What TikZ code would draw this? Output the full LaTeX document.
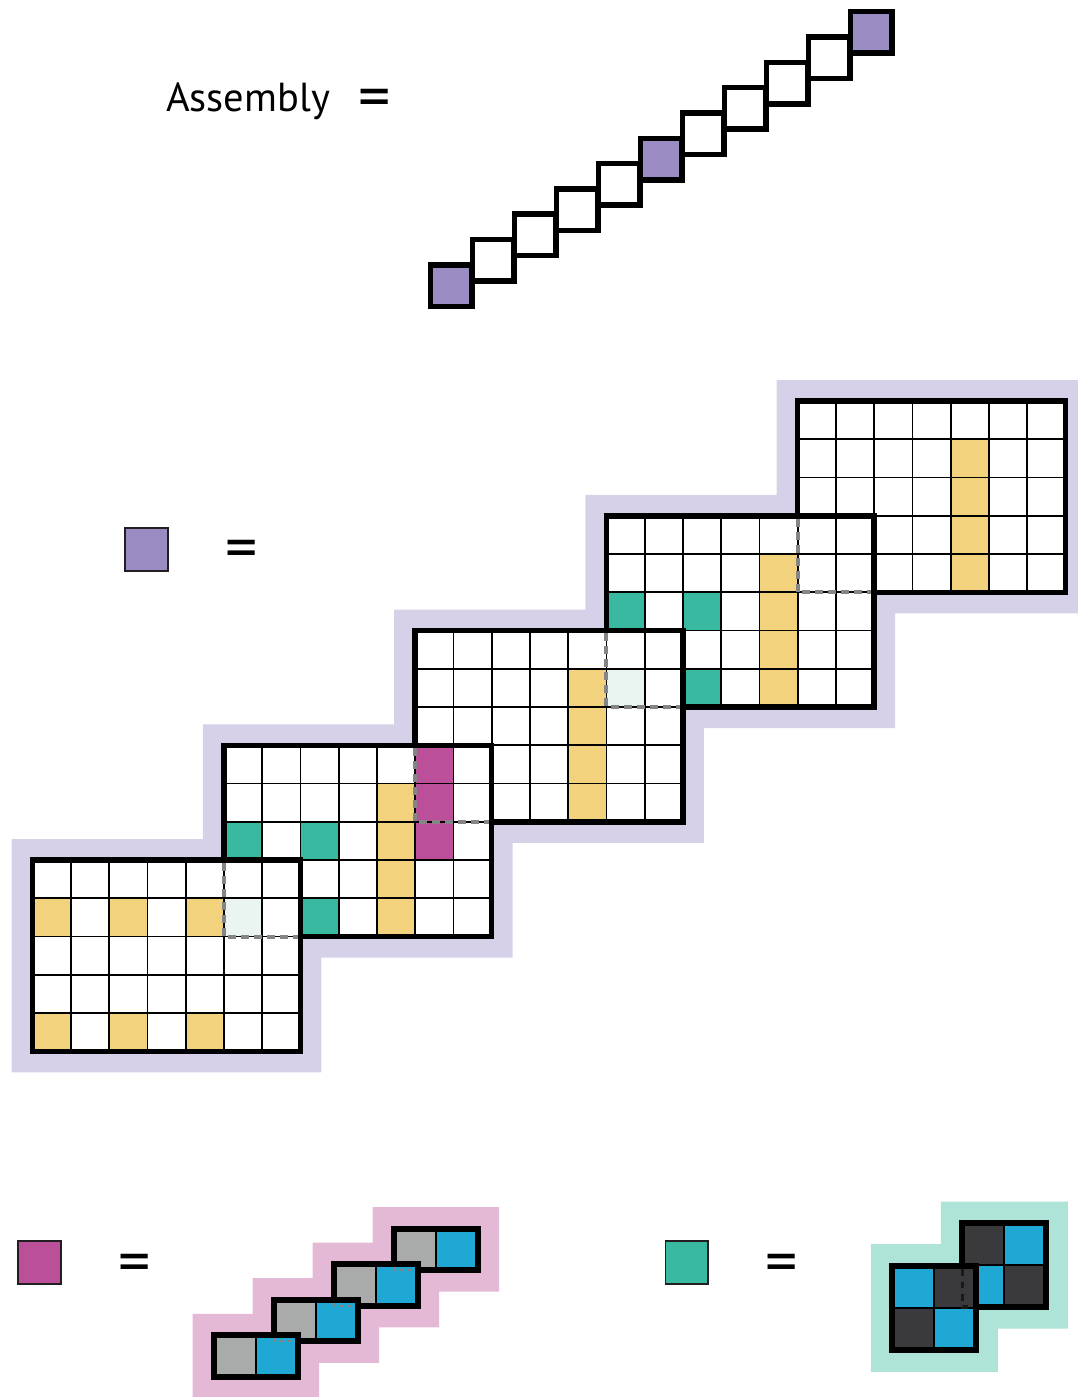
\documentclass[tikz,border=0pt]{standalone}
\usepackage{fontspec}
\setmainfont{PT Sans}
\definecolor{lav}{HTML}{D6D1E8}
\definecolor{purp}{HTML}{9B8BC3}
\definecolor{yel}{HTML}{F3D27D}
\definecolor{tealc}{HTML}{38B9A0}
\definecolor{mag}{HTML}{BC4F99}
\definecolor{tint}{HTML}{EAF4F0}
\definecolor{pinkbg}{HTML}{E4B9D6}
\definecolor{greyc}{HTML}{A9AAAA}
\definecolor{bluec}{HTML}{1EA8D3}
\definecolor{darkc}{HTML}{3A3A3C}
\definecolor{tealbg}{HTML}{AEE3D8}
\definecolor{dashg}{HTML}{858585}
\definecolor{ink}{HTML}{231F20}
\def\cs{38.25}
\newcommand{\mygridbase}[2]{\fill[white] (#1,#2) rectangle ++({7*\cs},{5*\cs});}
\newcommand{\mycell}[5]{\fill[#5] ({#1+#3*\cs},{#2+#4*\cs}) rectangle ++(\cs,\cs);}
\newcommand{\mygridlines}[2]{%
  \foreach \i in {1,...,6} {\draw[thinline] ({#1+\i*\cs},#2) -- ++(0,{5*\cs});}
  \foreach \j in {1,...,4} {\draw[thinline] (#1,{#2+\j*\cs}) -- ++({7*\cs},0);}
  \draw[thickline] (#1,#2) rectangle ++({7*\cs},{5*\cs});}
% hidden border of grid (#1,#2) under grid (#3,#4)
\newcommand{\myhidden}[4]{\draw[hidgrid] (#1,{#4+2.75}) -- (#1,{#2+5*\cs}) -- ({#3+7*\cs-2.75},{#2+5*\cs});}
\tikzset{
  thinline/.style={line width=1.8pt, black},
  thickline/.style={line width=5.5pt, black},
  hidgrid/.style={line width=4pt, dashg, dash pattern=on 8pt off 5pt},
  legendsq/.style={line width=1.5pt, draw=ink},
  eqsign/.style={font=\fontsize{64}{70}\selectfont, inner sep=0pt},
}
\begin{document}
\begin{tikzpicture}[x=1pt,y=-1pt]
\useasboundingbox (0,0) rectangle (1078,1397);

% ---------- top: Assembly chain ----------
\node[anchor=base west, inner sep=0pt, font=\fontsize{40.5}{48}\selectfont] (asm) at (166,111.7) {Assembly};
\node[eqsign] (eq1) at (374.7,104) {=};
\foreach \k in {0,5,10} {\fill[purp] ({430.5+42*\k},{264.75-25.3*\k}) rectangle ++(41.5,41.5);}
\foreach \k in {0,...,10} {\draw[thickline] ({430.5+42*\k},{264.75-25.3*\k}) rectangle ++(41.5,41.5);}

% ---------- middle ----------
\filldraw[legendsq, fill=purp] (125,528) rectangle (168,571);
\node[eqsign] (eq2) at (241.4,555) {=};

\def\M{21}
\fill[lav] ({32.7-\M},{860+5*\cs+\M}) -- ({32.7-\M},{860-\M}) -- ({223.95-\M},{860-\M})
  -- ({223.95-\M},{745.25-\M}) -- ({415.2-\M},{745.25-\M}) -- ({415.2-\M},{630.5-\M})
  -- ({606.45-\M},{630.5-\M}) -- ({606.45-\M},{515.75-\M}) -- ({797.7-\M},{515.75-\M})
  -- ({797.7-\M},{401-\M}) -- ({797.7+7*\cs+\M},{401-\M}) -- ({797.7+7*\cs+\M},{401+5*\cs+\M})
  -- ({606.45+7*\cs+\M},{401+5*\cs+\M}) -- ({606.45+7*\cs+\M},{515.75+5*\cs+\M})
  -- ({415.2+7*\cs+\M},{515.75+5*\cs+\M}) -- ({415.2+7*\cs+\M},{630.5+5*\cs+\M})
  -- ({223.95+7*\cs+\M},{630.5+5*\cs+\M}) -- ({223.95+7*\cs+\M},{745.25+5*\cs+\M})
  -- ({32.7+7*\cs+\M},{745.25+5*\cs+\M}) -- ({32.7+7*\cs+\M},{860+5*\cs+\M}) -- cycle;

% grid 5
\mygridbase{797.7}{401}
\foreach \r in {1,...,4} {\mycell{797.7}{401}{4}{\r}{yel}}
\mygridlines{797.7}{401}
% grid 4
\mygridbase{606.45}{515.75}
\foreach \r in {1,...,4} {\mycell{606.45}{515.75}{4}{\r}{yel}}
\mycell{606.45}{515.75}{0}{2}{tealc}
\mycell{606.45}{515.75}{2}{2}{tealc}
\mycell{606.45}{515.75}{2}{4}{tealc}
\mygridlines{606.45}{515.75}
\myhidden{797.7}{401}{606.45}{515.75}
% grid 3
\mygridbase{415.2}{630.5}
\foreach \r in {1,...,4} {\mycell{415.2}{630.5}{4}{\r}{yel}}
\mycell{415.2}{630.5}{5}{1}{tint}
\mygridlines{415.2}{630.5}
\myhidden{606.45}{515.75}{415.2}{630.5}
% grid 2
\mygridbase{223.95}{745.25}
\foreach \r in {1,...,4} {\mycell{223.95}{745.25}{4}{\r}{yel}}
\foreach \r in {0,...,2} {\mycell{223.95}{745.25}{5}{\r}{mag}}
\mycell{223.95}{745.25}{0}{2}{tealc}
\mycell{223.95}{745.25}{2}{2}{tealc}
\mycell{223.95}{745.25}{2}{4}{tealc}
\mygridlines{223.95}{745.25}
\myhidden{415.2}{630.5}{223.95}{745.25}
% grid 1
\mygridbase{32.7}{860}
\foreach \q in {0,2,4} {\mycell{32.7}{860}{\q}{1}{yel}\mycell{32.7}{860}{\q}{4}{yel}}
\mycell{32.7}{860}{5}{1}{tint}
\mygridlines{32.7}{860}
\myhidden{223.95}{745.25}{32.7}{860}

% ---------- bottom left: magenta ----------
\filldraw[legendsq, fill=mag] (18,1241) rectangle (61,1284);
\node[eqsign] (eq3) at (134.3,1268.7) {=};
\def\W{83.7}\def\H{41.7}\def\N{21.5}
\fill[pinkbg] ({214-\N},{1335.3+\H+\N}) -- ({214-\N},{1335.3-\N}) -- ({274-\N},{1335.3-\N})
  -- ({274-\N},{1299.7-\N}) -- ({334-\N},{1299.7-\N}) -- ({334-\N},{1264.1-\N})
  -- ({394-\N},{1264.1-\N}) -- ({394-\N},{1228.5-\N}) -- ({394+\W+\N},{1228.5-\N})
  -- ({394+\W+\N},{1228.5+\H+\N}) -- ({334+\W+\N},{1228.5+\H+\N}) -- ({334+\W+\N},{1264.1+\H+\N})
  -- ({274+\W+\N},{1264.1+\H+\N}) -- ({274+\W+\N},{1299.7+\H+\N}) -- ({214+\W+\N},{1299.7+\H+\N})
  -- ({214+\W+\N},{1335.3+\H+\N}) -- cycle;
\foreach \k in {3,2,1,0} {
  \fill[greyc] ({214+60*\k},{1335.3-35.6*\k}) rectangle ++({\W/2},\H);
  \fill[bluec] ({214+60*\k+\W/2},{1335.3-35.6*\k}) rectangle ++({\W/2},\H);
  \draw[line width=1.8pt] ({214+60*\k+\W/2},{1335.3-35.6*\k}) -- ++(0,\H);
  \draw[line width=6pt] ({214+60*\k},{1335.3-35.6*\k}) rectangle ++(\W,\H);
}
\foreach \k in {0,1,2} {
  \draw[line width=2pt, dashg, dash pattern=on 5pt off 3pt]
    ({274+60*\k},{1335.3-35.6*\k+3}) -- ({274+60*\k},{1335.3-35.6*\k+6.1}) -- ({214+60*\k+\W-3},{1335.3-35.6*\k+6.1});
}

% ---------- bottom right: teal ----------
\filldraw[legendsq, fill=tealc] (665.5,1241) rectangle (708,1284);
\node[eqsign] (eq4) at (781.7,1268.7) {=};
\fill[tealbg] ({892.3-\N},{1350.3+\N}) -- ({892.3-\N},{1265.7-\N}) -- ({962.3-\N},{1265.7-\N})
  -- ({962.3-\N},{1223-\N}) -- ({1046.3+\N},{1223-\N}) -- ({1046.3+\N},{1307+\N})
  -- ({976.3+\N},{1307+\N}) -- ({976.3+\N},{1350.3+\N}) -- cycle;
% block 2 (upper right)
\fill[darkc] (962.3,1223) rectangle ++(42,42);
\fill[bluec] (1004.3,1223) rectangle ++(42,42);
\fill[bluec] (962.3,1265) rectangle ++(42,42);
\fill[darkc] (1004.3,1265) rectangle ++(42,42);
\draw[line width=1.8pt] (1004.3,1223) -- ++(0,84) (962.3,1265) -- ++(84,0);
\draw[line width=6pt] (962.3,1223) rectangle ++(84,84);
% block 1 (lower left)
\fill[bluec] (892.3,1265.7) rectangle ++(42,42);
\fill[darkc] (934.3,1265.7) rectangle ++(42,42);
\fill[darkc] (892.3,1307.7) rectangle ++(42,42);
\fill[bluec] (934.3,1307.7) rectangle ++(42,42);
\draw[line width=1.8pt] (934.3,1265.7) -- ++(0,84) (892.3,1307.7) -- ++(84,0);
\draw[line width=6pt] (892.3,1265.7) rectangle ++(84,84);
\draw[line width=3.5pt, black!90, dash pattern=on 6.5pt off 6pt] (962.3,1269) -- (962.3,1307) -- (973.3,1307);

\end{tikzpicture}
\end{document}
